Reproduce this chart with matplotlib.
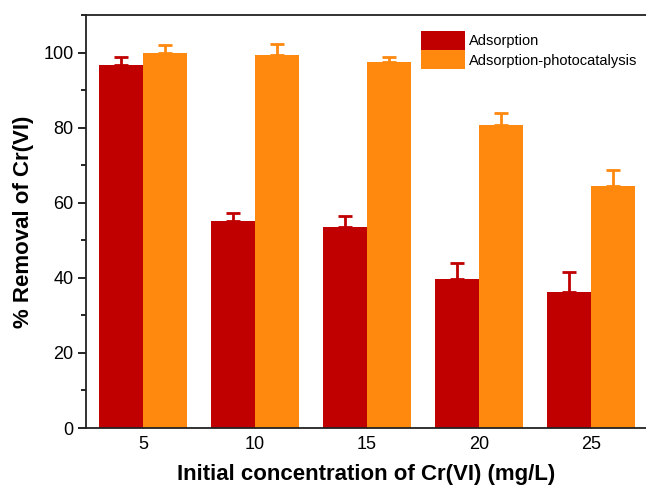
import matplotlib
matplotlib.use("Agg")
import matplotlib.pyplot as plt
import numpy as np
from matplotlib.ticker import MultipleLocator

categories = ["5", "10", "15", "20", "25"]
adsorption = [96.8, 55.2, 53.5, 39.8, 36.2]
adsorption_err = [2.0, 2.0, 3.0, 4.2, 5.3]
photocat = [100.0, 99.3, 97.6, 80.8, 64.5]
photocat_err = [2.0, 3.0, 1.1, 3.2, 4.1]

red = "#C00000"
orange = "#FF880E"

plt.rcParams['font.family'] = ['Liberation Sans', 'DejaVu Sans']

fig = plt.figure(figsize=(6.46, 4.86), dpi=100)
ax = fig.add_axes([86/646, 58/486, 1 - 86/646, (428-15)/486])

x = np.arange(len(categories))
w = 0.39
ax.bar(x - w/2, adsorption, w, color=red, label="Adsorption",
       yerr=[np.zeros(len(x)), adsorption_err], ecolor=red,
       error_kw=dict(elinewidth=2, capsize=5, capthick=2))
ax.bar(x + w/2, photocat, w, color=orange, label="Adsorption-photocatalysis",
       yerr=[np.zeros(len(x)), photocat_err], ecolor=orange,
       error_kw=dict(elinewidth=2, capsize=5, capthick=2))

ax.set_xlim(-0.51, 4.49)
ax.set_ylim(0, 110)
ax.set_xticks(x)
ax.set_xticklabels(categories)
ax.yaxis.set_major_locator(MultipleLocator(20))
ax.yaxis.set_minor_locator(MultipleLocator(10))
ax.tick_params(axis='x', length=0, labelsize=13, pad=6)
ax.tick_params(axis='y', which='major', direction='out', length=6, width=1.2, labelsize=13, pad=3)
ax.tick_params(axis='y', which='minor', direction='out', length=3.5, width=1.2)
for s in ['left', 'bottom', 'top']:
    ax.spines[s].set_linewidth(1.3)
    ax.spines[s].set_color('#222222')
ax.spines['right'].set_visible(False)

ax.set_xlabel("Initial concentration of Cr(VI) (mg/L)", fontsize=16, fontweight='bold', labelpad=8)
ax.set_ylabel("% Removal of Cr(VI)", fontsize=16, fontweight='bold', labelpad=7)

leg = ax.legend(loc='upper left', bbox_to_anchor=(421/646, 1 - 31/486),
                bbox_transform=fig.transFigure, frameon=False, fontsize=10.5,
                handlelength=3.0, handleheight=1.65, labelspacing=0.0,
                handletextpad=0.3, borderpad=0, borderaxespad=0)

fig.savefig("out.png", dpi=100)
